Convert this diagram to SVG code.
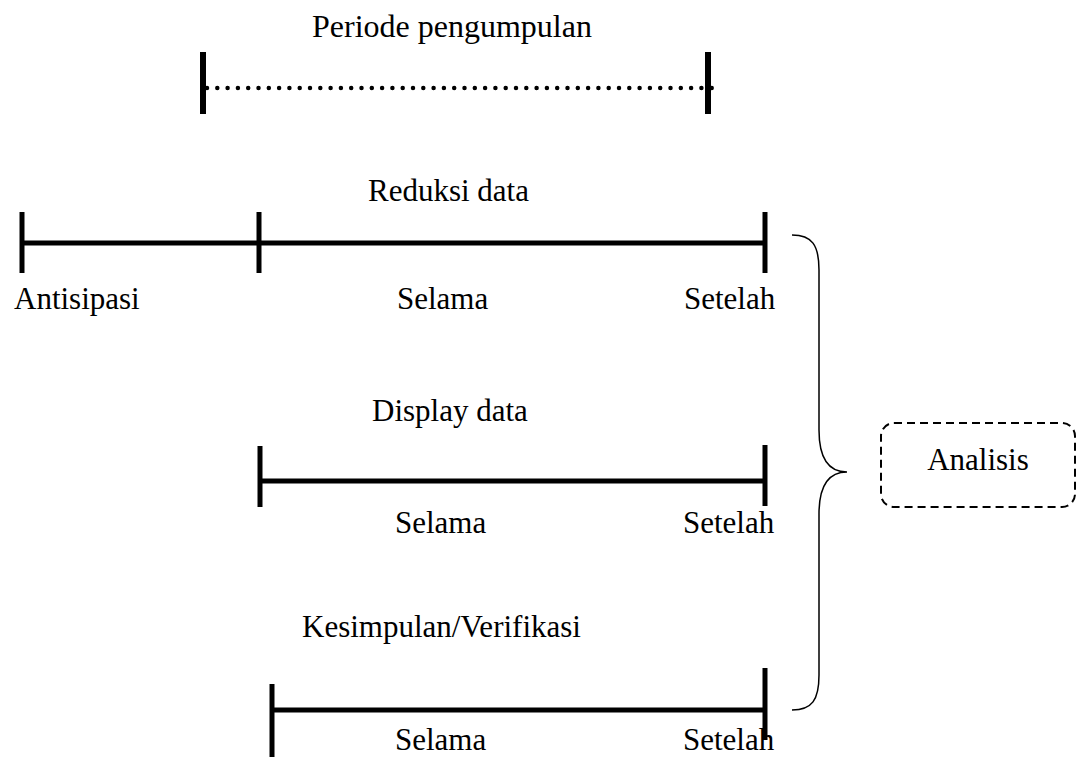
<svg xmlns="http://www.w3.org/2000/svg" width="1082" height="757" viewBox="0 0 1082 757">
<style>
text{font-family:"Liberation Serif","Times New Roman",serif;font-size:31px;fill:#000}
.bar{stroke:#000;stroke-width:6;fill:none}
.tick{stroke:#000;stroke-width:5;fill:none}
.line{stroke:#000;stroke-width:5;fill:none}
</style>
<rect width="1082" height="757" fill="#fff"/>
<g id="periode">
<text x="312" y="37" style="font-size:32px">Periode pengumpulan</text>
<line class="bar" x1="203" y1="52" x2="203" y2="114"/>
<line class="bar" x1="708" y1="52" x2="708" y2="114"/>
<line x1="207" y1="88" x2="713" y2="88" stroke="#000" stroke-width="4.5" stroke-linecap="round" stroke-dasharray="0 10.3"/>
</g>
<g id="reduksi">
<text x="368" y="201">Reduksi data</text>
<line class="line" x1="22" y1="243" x2="765" y2="243"/>
<line class="tick" x1="22" y1="212" x2="22" y2="273"/>
<line class="tick" x1="259" y1="212" x2="259" y2="273"/>
<line class="tick" x1="765" y1="212" x2="765" y2="273"/>
<text x="14" y="309">Antisipasi</text>
<text x="397" y="309">Selama</text>
<text x="684" y="309">Setelah</text>
</g>
<g id="display">
<text x="372" y="421">Display data</text>
<line class="line" x1="260" y1="481" x2="765" y2="481"/>
<line class="tick" x1="260" y1="446" x2="260" y2="507"/>
<line class="tick" x1="765" y1="445" x2="765" y2="506"/>
<text x="395" y="533">Selama</text>
<text x="683" y="533">Setelah</text>
</g>
<g id="kesimpulan">
<text x="302" y="637">Kesimpulan/Verifikasi</text>
<line class="line" x1="272" y1="710" x2="765" y2="710"/>
<line class="tick" x1="272" y1="684" x2="272" y2="757"/>
<line class="tick" x1="765" y1="668" x2="765" y2="740"/>
<text x="395" y="750">Selama</text>
<text x="683" y="750">Setelah</text>
</g>
<g id="connectors">
<path d="M792,235 C812,235 819,245 819,270 L819,430 C819,460 830,472 847,472 C830,472 819,484 819,514 L819,675 C819,700 812,710 792,710" fill="none" stroke="#000" stroke-width="1.5"/>
</g>
<g id="analisis">
<rect x="881" y="423" width="194" height="84" rx="13" ry="13" fill="none" stroke="#000" stroke-width="2" stroke-dasharray="8 5"/>
<text x="978" y="470" text-anchor="middle">Analisis</text>
</g>
</svg>
